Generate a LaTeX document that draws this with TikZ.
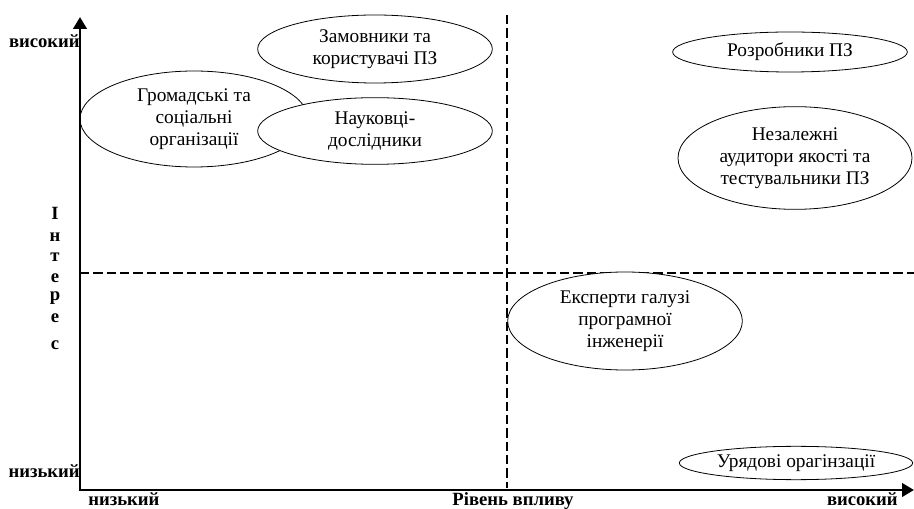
\documentclass[tikz,border=0pt]{standalone}
\usepackage{fontspec}
\setmainfont{Liberation Serif}
\usetikzlibrary{shapes.geometric,arrows.meta}
\begin{document}
\begin{tikzpicture}[x=0.75pt,y=-0.75pt,
	stake/.style={ellipse,draw,fill=white,line width=0.6pt,inner sep=0pt,align=center,
		font=\fontsize{14.5}{16.5}\selectfont},
	axislbl/.style={inner sep=0pt,font=\fontsize{14}{16}\selectfont\bfseries},
	halfline/.style={line width=1.5pt,dash pattern=on 7pt off 3pt},
	axisline/.style={line width=2.2pt,{Triangle[length=9pt,width=10pt]}-{Triangle[length=9pt,width=10pt]}}]%,scale=0.75
	\useasboundingbox (0,0) rectangle (914,509);
	\coordinate (ytop) at (80,17);
	\coordinate (O) at (80,490);
	\coordinate (xend) at (914,490);
	\coordinate (vtop) at (507,15);
	\coordinate (vbot) at (507,488);
	\coordinate (hleft) at (80,273);
	\coordinate (hright) at (914,273);
	\draw[halfline] (vtop) -- (vbot);
	\draw[halfline] (hleft) -- (hright);
	\node[stake,minimum width=176pt,minimum height=51pt] (zamovn) at (375,49) {Замовники та\\користувачі ПЗ};
	\node[stake,minimum width=171pt,minimum height=72pt] (hromad) at (194,119) {Громадські та\\соціальні\\організації};
	\node[stake,minimum width=176pt,minimum height=50pt] (nauk) at (375,131) {Науковці-\\дослідники};
	\node[stake,minimum width=176pt,minimum height=30pt] (rozrob) at (790,52) {Розробники ПЗ};
	\node[stake,minimum width=175.5pt,minimum height=77pt] (audyt) at (795,158) {Незалежні\\аудитори якості та\\тестувальники ПЗ};
	\node[stake,minimum width=176pt,minimum height=73.5pt] (ekspert) at (625,321) {Експерти галузі\\програмної\\інженерії};
	\node[stake,minimum width=175pt,minimum height=25pt] (uriad) at (796,463) {Урядові орагінзації};
	\draw[axisline] (ytop) -- (O) -- (xend);
	\node[axislbl,anchor=base east] (yhigh) at (80,48) {високий};
	\node[axislbl,anchor=base east] (ylow) at (80,478) {низький};
	\node[axislbl,anchor=base west] (xlow) at (88,505) {низький};
	\node[axislbl,anchor=base] (xname) at (513,505) {Рівень впливу};
	\node[axislbl,anchor=base east] (xhigh) at (898,505) {високий};
	\foreach \ch/\yy [count=\i] in {І/213,н/237,т/257,е/278,р/298,е/318,с/345}
	\node[axislbl] (int\i) at (55,\yy) {\ch};
\end{tikzpicture}
\end{document}
